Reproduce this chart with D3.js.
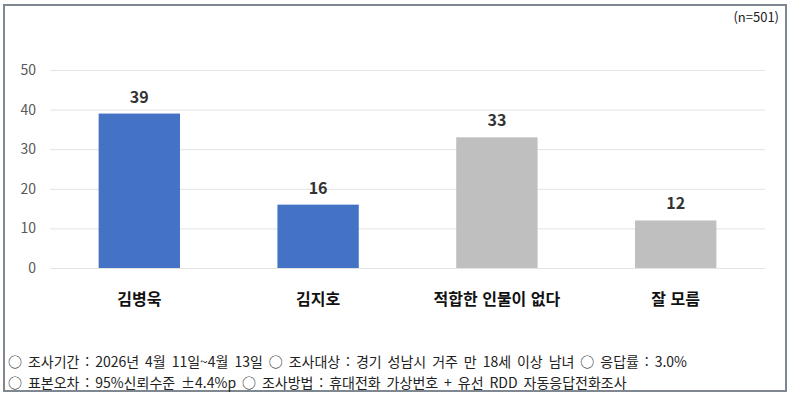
<!DOCTYPE html>
<html lang="ko">
<head>
  <meta charset="UTF-8">
  <title>여론조사</title>
  <style>
    * { box-sizing: border-box; margin: 0; }
    body { width: 792px; height: 398px; background: #fff; font-family: "Noto Sans CJK KR", "Noto Sans", sans-serif; }
    svg { display: block; }
    .grid line { stroke: #e3e3e3; stroke-width: 1; }
    .tick-label { fill: #595959; font-size: 14px; }
    .val { fill: #333; font-size: 16px; font-weight: bold; }
    .cat { fill: #111; font-size: 16px; font-weight: bold; }
    .note { fill: #222; font-size: 13px; }
    .foot { fill: #222; font-size: 14px; word-spacing: 2px; }
  </style>
</head>
<body>
  <svg></svg>
  <script src="https://d3js.org/d3.v7.min.js"></script>
  <script>
    const categories = ['김병욱', '김지호', '적합한 인물이 없다', '잘 모름'];
    const values = [39, 16, 33, 12];
    const colors = ['#4472C4', '#4472C4', '#BFBFBF', '#BFBFBF'];
    const yTicks = [0, 10, 20, 30, 40, 50];
    const sampleNote = '(n=501)';
    const notes = [
      '○ 조사기간 : 2026년 4월 11일~4월 13일 ○ 조사대상 : 경기 성남시 거주 만 18세 이상 남녀 ○ 응답률 : 3.0%',
      '○ 표본오차 : 95%신뢰수준 ±4.4%p ○ 조사방법 : 휴대전화 가상번호 + 유선 RDD 자동응답전화조사'
    ];

    const width = 792;
    const height = 398;
    const svg = d3.select('svg')
      .attr('width', width)
      .attr('height', height);

    // outer frame
    svg.append('rect')
      .attr('x', 4).attr('y', 5)
      .attr('width', 782).attr('height', 386)
      .attr('fill', 'none')
      .attr('stroke', '#7f8790')
      .attr('stroke-width', 2);

    const x = d3.scaleBand()
      .domain(categories)
      .range([50, 765])
      .paddingInner(0.545)
      .paddingOuter(0.272);

    const y = d3.scaleLinear()
      .domain([0, 50])
      .range([268, 70]);

    const grid = svg.append('g').attr('class', 'grid');
    grid.selectAll('line')
      .data(yTicks)
      .enter().append('line')
      .attr('x1', 50).attr('x2', 765)
      .attr('y1', d => y(d) + 0.5).attr('y2', d => y(d) + 0.5);

    svg.append('g').selectAll('text')
      .data(yTicks)
      .enter().append('text')
      .attr('class', 'tick-label')
      .attr('x', 36)
      .attr('y', d => y(d))
      .attr('dy', '0.35em')
      .attr('text-anchor', 'end')
      .text(d => d);

    svg.append('g').selectAll('rect')
      .data(values)
      .enter().append('rect')
      .attr('x', (d, i) => x(categories[i]))
      .attr('y', d => y(d))
      .attr('width', x.bandwidth())
      .attr('height', d => y(0) - y(d))
      .attr('fill', (d, i) => colors[i]);

    svg.append('g').selectAll('text')
      .data(values)
      .enter().append('text')
      .attr('class', 'val')
      .attr('x', (d, i) => x(categories[i]) + x.bandwidth() / 2)
      .attr('y', d => y(d) - 11)
      .attr('text-anchor', 'middle')
      .text(d => d);

    svg.append('g').selectAll('text')
      .data(categories)
      .enter().append('text')
      .attr('class', 'cat')
      .attr('x', d => x(d) + x.bandwidth() / 2)
      .attr('y', 305)
      .attr('text-anchor', 'middle')
      .text(d => d);

    svg.append('text')
      .attr('class', 'note')
      .attr('x', 779).attr('y', 22)
      .attr('text-anchor', 'end')
      .text(sampleNote);

    svg.append('g').selectAll('text')
      .data(notes)
      .enter().append('text')
      .attr('class', 'foot')
      .attr('x', 8)
      .attr('y', (d, i) => 367 + i * 21)
      .text(d => d);
  </script>
</body>
</html>
